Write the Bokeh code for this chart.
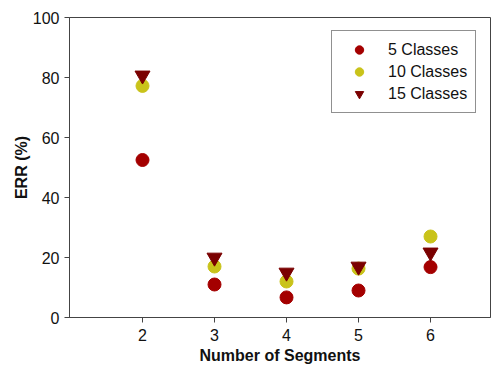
from bokeh.plotting import figure
from bokeh.models import FixedTicker, Range1d, Legend, LegendItem
from bokeh.embed import file_html
from bokeh.resources import INLINE

segments = [2, 3, 4, 5, 6]
err_5 = [52.5, 11.0, 6.7, 9.0, 16.8]
err_10 = [77.2, 17.0, 12.0, 16.3, 27.0]
err_15 = [80.7, 20.0, 15.0, 17.0, 21.7]
y_ticks = [0, 20, 40, 60, 80, 100]
x_ticks = [2, 3, 4, 5, 6]

FONT = "Liberation Sans"

p = figure(width=492, height=366, output_backend="svg", toolbar_location=None,
           x_range=Range1d(0.986, 6.833), y_range=Range1d(0, 100),
           min_border_left=69, min_border_right=2, min_border_top=17, min_border_bottom=48)
p.background_fill_color = "white"
p.border_fill_color = "white"
p.outline_line_color = "#444444"
p.outline_line_width = 1
p.xgrid.visible = False
p.ygrid.visible = False

r5 = p.scatter(segments, err_5, marker="circle", size=13, fill_color="#a40000", line_color="#a40000")
r10 = p.scatter(segments, err_10, marker="circle", size=13, fill_color="#c9c31a", line_color="#c9c31a")
r15 = p.scatter(segments, err_15, marker="inverted_triangle", size=15, fill_color="#7a0000", line_color="#7a0000")

for ax in (p.xaxis, p.yaxis):
    ax.axis_line_color = "#444444"
    ax.major_tick_line_color = "#444444"
    ax.minor_tick_line_color = None
    ax.major_tick_in = 0
    ax.major_tick_out = 5
    ax.major_label_text_font = FONT
    ax.major_label_text_font_size = "16px"
    ax.major_label_text_color = "#111111"
    ax.axis_label_text_font = FONT
    ax.axis_label_text_font_size = "16px"
    ax.axis_label_text_font_style = "bold"
    ax.axis_label_text_color = "#111111"

p.xaxis.ticker = FixedTicker(ticks=x_ticks)
p.yaxis.ticker = FixedTicker(ticks=y_ticks)
p.xaxis.axis_label = "Number of Segments"
p.yaxis.axis_label = "ERR (%)"
p.xaxis.major_label_standoff = 6
p.yaxis.major_label_standoff = 5
p.xaxis.axis_label_standoff = 3
p.yaxis.axis_label_standoff = 0

legend = Legend(items=[
    LegendItem(label="5 Classes", renderers=[r5]),
    LegendItem(label="10 Classes", renderers=[r10]),
    LegendItem(label="15 Classes", renderers=[r15]),
], location=(262, 204))
legend.label_text_font = FONT
legend.label_text_font_size = "16px"
legend.label_text_color = "#111111"
legend.border_line_color = "#222222"
legend.border_line_width = 1
legend.padding = 8
legend.margin = 0
legend.spacing = 1
legend.label_height = 21
legend.glyph_height = 21
legend.glyph_width = 38
legend.label_standoff = 10
legend.background_fill_alpha = 1
p.add_layout(legend)

open("out.html", "w").write(file_html(p, INLINE))
